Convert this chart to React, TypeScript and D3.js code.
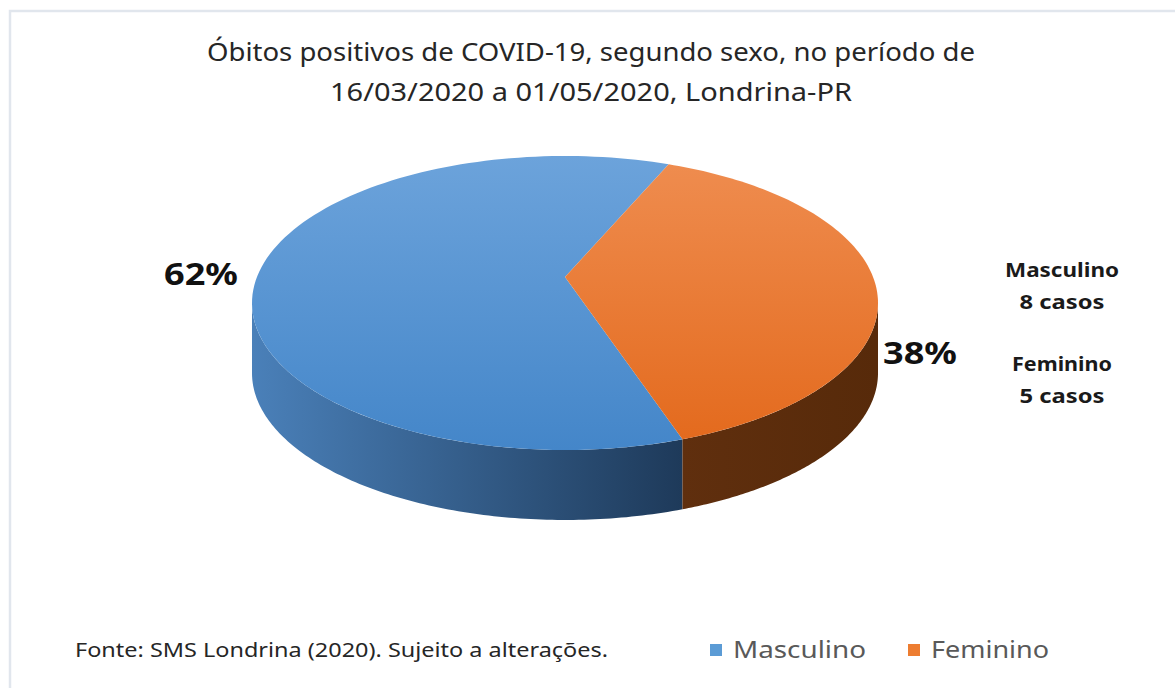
import React from "react";
import * as d3 from "d3";

const categories = ["Masculino", "Feminino"];
const values = [8, 5];
const pctLabels = ["62%", "38%"];
const caseLabels = ["8 casos", "5 casos"];
const titleLines = [
  "Óbitos positivos de COVID-19, segundo sexo, no período de",
  "16/03/2020 a 01/05/2020, Londrina-PR",
];
const sourceText = "Fonte: SMS Londrina (2020). Sujeito a alterações.";

const W = 1175;
const H = 688;
const cx = 565;
const cy = 303;
const rx = 313;
const ry = 147;
const tilt = -0.177;
const depth = 70;
const startDeg = 161.5;

const topColors = [
  ["#6ca3db", "#4486c9"],
  ["#ef8d50", "#e3691c"],
];
const sideColors = [
  ["#4a80b9", "#1e3a5a"],
  ["#602f0e", "#572a0a"],
];
const legendColors = ["#5b9bd5", "#ed7d31"];
const FONT = "'Noto Sans', 'Open Sans', sans-serif";

function proj(theta: number): [number, number] {
  const x = Math.sin(theta);
  const y = -Math.cos(theta);
  const k = 1 + y * tilt;
  const X = (x * Math.sqrt(1 - tilt * tilt)) / k;
  const Y = (y + tilt) / k;
  return [cx + rx * X, cy + ry * Y];
}

function samples(a0: number, a1: number, n = 120): number[] {
  return d3.range(n + 1).map((i) => a0 + ((a1 - a0) * i) / n);
}

export default function App() {
  const pie = d3
    .pie<number>()
    .sort(null)
    .startAngle((startDeg * Math.PI) / 180)
    .endAngle((startDeg * Math.PI) / 180 + 2 * Math.PI);
  const arcs = pie(values);
  const line = d3.line();
  const apex = proj(0);
  const apexPt: [number, number] = [cx, cy + ry * tilt];
  void apex;

  const visA = Math.acos(tilt);
  const visB = 2 * Math.PI - visA;

  const sides = arcs.map((a, i) => {
    // normalize into [0, 2pi) window that intersects visible range
    let s0 = a.startAngle;
    let s1 = a.endAngle;
    while (s0 >= 2 * Math.PI) {
      s0 -= 2 * Math.PI;
      s1 -= 2 * Math.PI;
    }
    const lo = Math.max(s0, visA);
    const hi = Math.min(s1, visB);
    if (hi <= lo) return null;
    const topPts = samples(lo, hi).map(proj);
    const botPts = topPts
      .slice()
      .reverse()
      .map(([x, y]) => [x, y + depth] as [number, number]);
    return { i, d: line([...topPts, ...botPts])! + "Z" };
  });

  const tops = arcs.map((a, i) => {
    const pts = samples(a.startAngle, a.endAngle).map(proj);
    return { i, d: line([apexPt, ...pts])! + "Z" };
  });

  const pctPos: [number, number][] = [
    [201, 285],
    [920, 364],
  ];

  return (
    <svg
      width={W}
      height={H}
      style={{ position: "absolute", left: 0, top: 0, background: "#fff" }}
      fontFamily={FONT}
    >
      <defs>
        {topColors.map((c, i) => (
          <linearGradient
            key={"tg" + i}
            id={"tg" + i}
            gradientUnits="userSpaceOnUse"
            x1={0}
            y1={cy - ry}
            x2={0}
            y2={cy + ry}
          >
            <stop offset="0" stopColor={c[0]} />
            <stop offset="1" stopColor={c[1]} />
          </linearGradient>
        ))}
        {sideColors.map((c, i) => (
          <linearGradient
            key={"sg" + i}
            id={"sg" + i}
            gradientUnits="userSpaceOnUse"
            x1={i === 0 ? cx - rx : 680}
            y1={0}
            x2={i === 0 ? 682 : cx + rx}
            y2={0}
          >
            <stop offset="0" stopColor={c[0]} />
            <stop offset="1" stopColor={c[1]} />
          </linearGradient>
        ))}
      </defs>
      <rect x={0} y={0} width={W} height={H} fill="#ffffff" />
      <path
        d={`M10,${H + 5} L10,11 L${W + 5},11`}
        fill="none"
        stroke="#e1e6ed"
        strokeWidth={2.5}
      />
      {titleLines.map((t, i) => (
        <text
          key={t}
          x={591}
          y={61 + i * 40}
          textAnchor="middle"
          fontSize={25}
          fill="#262626"
          textLength={i === 0 ? 768 : 522}
          lengthAdjust="spacingAndGlyphs"
        >
          {t}
        </text>
      ))}
      {sides.map((s) =>
        s ? <path key={"s" + s.i} d={s.d} fill={`url(#sg${s.i})`} /> : null
      )}
      {tops.map((t) => (
        <path key={"t" + t.i} d={t.d} fill={`url(#tg${t.i})`} />
      ))}
      {pctLabels.map((p, i) => (
        <text
          key={p}
          x={pctPos[i][0]}
          y={pctPos[i][1]}
          textAnchor="middle"
          fontSize={31}
          fontWeight="bold"
          fill="#111"
          textLength={74}
          lengthAdjust="spacingAndGlyphs"
        >
          {p}
        </text>
      ))}
      {categories.map((c, i) => (
        <g key={"n" + c}>
          <text
            x={1062}
            y={277 + i * 94}
            textAnchor="middle"
            fontSize={19}
            fontWeight="bold"
            fill="#1a1a1a"
            textLength={i === 0 ? 114 : 100}
            lengthAdjust="spacingAndGlyphs"
          >
            {c}
          </text>
          <text
            x={1062}
            y={309 + i * 94}
            textAnchor="middle"
            fontSize={19}
            fontWeight="bold"
            fill="#1a1a1a"
            textLength={85}
            lengthAdjust="spacingAndGlyphs"
          >
            {caseLabels[i]}
          </text>
        </g>
      ))}
      <text
        x={75}
        y={657}
        fontSize={19}
        fill="#262626"
        textLength={533}
        lengthAdjust="spacingAndGlyphs"
      >
        {sourceText}
      </text>
      {categories.map((c, i) => {
        const x0 = i === 0 ? 710 : 908;
        return (
          <g key={"l" + c}>
            <rect x={x0} y={644} width={12} height={12} fill={legendColors[i]} />
            <text
              x={x0 + 23}
              y={658}
              fontSize={23}
              fill="#595959"
              textLength={i === 0 ? 133 : 118}
              lengthAdjust="spacingAndGlyphs"
            >
              {c}
            </text>
          </g>
        );
      })}
    </svg>
  );
}
